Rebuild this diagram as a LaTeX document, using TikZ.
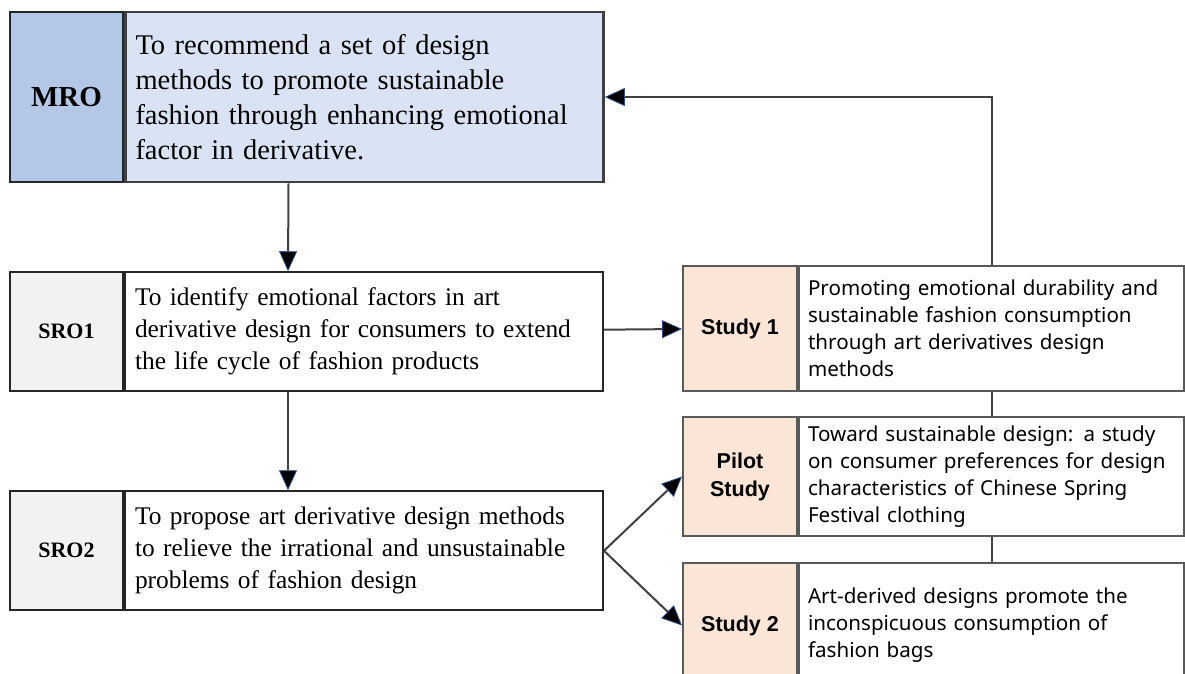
\documentclass[tikz,border=0pt]{standalone}
\usepackage{fontspec}
\setmainfont{Liberation Serif}
\newfontfamily\studyfont{Noto Sans}
\newfontfamily\studyboldfont{Liberation Sans}
\usepackage{xcolor}
\usepackage{tikz}
\usetikzlibrary{arrows.meta,positioning}
\definecolor{mroblue}{HTML}{B4C7E7}
\definecolor{mrolight}{HTML}{DAE3F3}
\definecolor{srogray}{HTML}{F2F2F2}
\definecolor{studypeach}{HTML}{FBE5D6}
\definecolor{linegray}{HTML}{404040}
\definecolor{tipblue}{HTML}{2F4F8F}

\begin{document}
\begin{tikzpicture}
  [
  x=1pt,y=-1pt,
  mrolabel/.style={rectangle,draw=black!85,line width=2.5pt,fill=mroblue,inner sep=0pt,
    minimum width=113pt,minimum height=170pt,font=\fontsize{29}{35}\selectfont\bfseries},
  mrobox/.style={rectangle,draw=black!75,line width=2.5pt,fill=mrolight,inner xsep=10pt,inner ysep=0pt,
    text width=458pt,align=left,minimum height=170pt,font=\fontsize{28.5}{35}\selectfont},
  srolabel/.style={rectangle,draw=black!85,line width=2pt,fill=srogray,inner sep=0pt,
    minimum width=113pt,minimum height=119pt,font=\fontsize{22}{26}\selectfont\bfseries},
  srobox/.style={rectangle,draw=black!85,line width=2pt,fill=white,inner xsep=10pt,inner ysep=0pt,
    text width=458pt,align=left,minimum height=119pt,font=\fontsize{25.4}{32}\selectfont},
  studylabel/.style={rectangle,draw=black!65,line width=2pt,fill=studypeach,inner sep=0pt,align=center,
    minimum width=114pt,minimum height=#1,font=\studyboldfont\fontsize{21.5}{28}\selectfont\bfseries},
  studybox/.style={rectangle,draw=black!65,line width=2pt,fill=white,inner xsep=9pt,inner ysep=0pt,
    text width=367pt,align=left,minimum height=#1,font=\studyfont\fontsize{20.6}{27}\selectfont},
  link/.style={draw=linegray,line width=2pt},
  arr/.style={link,-{Triangle[length=20pt,width=18pt,color=tipblue,fill=black,line width=0.8pt]}}
  ]
  \useasboundingbox (0,0) rectangle (1185,673);

  % research objectives
  \node[mrolabel] (mro) at (66.5,97) {MRO};
  \node[mrobox,right=0pt of mro] (mrot) {To recommend a set of design\\methods to promote sustainable\\fashion through enhancing emotional\\factor in derivative.};
  \node[srolabel,below=88pt of mro] (sro1) {SRO1};
  \node[srobox,right=0pt of sro1] (sro1t) {To identify emotional factors in art\\derivative design for consumers to extend\\the life cycle of fashion products};
  \node[srolabel,below=98pt of sro1] (sro2) {SRO2};
  \node[srobox,right=0pt of sro2] (sro2t) {To propose art derivative design methods\\to relieve the irrational and unsustainable\\problems of fashion design};

  % studies
  \node[studylabel=125pt] (study1) at (740,328.5) {Study 1};
  \node[studybox=125pt,right=0pt of study1] (study1t) {Promoting emotional durability and\\sustainable fashion consumption\\through art derivatives design\\methods};
  \node[studylabel=119pt,below=24pt of study1] (pilot) {Pilot\\Study};
  \node[studybox=119pt,right=0pt of pilot] (pilott) {Toward sustainable design: a study\\on consumer preferences for design\\characteristics of Chinese Spring\\Festival clothing};
  \node[studylabel=125pt,below=25pt of pilot] (study2) {Study 2};
  \node[studybox=125pt,right=0pt of study2] (study2t) {Art-derived designs promote the\\inconspicuous consumption of\\fashion bags};

  % connectors
  \draw[arr] ([xshift=-76pt]mrot.south) -- ([xshift=-76pt]sro1t.north);
  \draw[arr] ([xshift=-76pt]sro1t.south) -- ([xshift=-76pt]sro2t.north);
  \draw[arr] (sro1t) -- (study1);
  \draw[arr] (sro2t.east) -- (pilot.west);
  \draw[arr] (sro2t.east) -- (study2.west);
  \draw[arr] (study1t.north) |- (mrot.east);
  \draw[link] (study1t.south) -- (pilott.north);
  \draw[link] (pilott.south) -- (study2t.north);
\end{tikzpicture}
\end{document}
